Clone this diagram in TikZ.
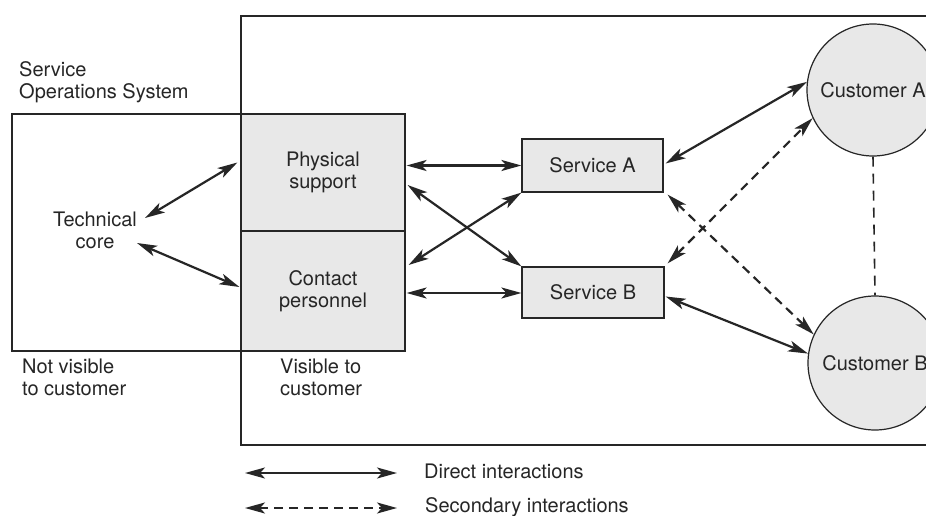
\documentclass[tikz,border=0pt]{standalone}
\usepackage{fontspec}
\setmainfont{TeX Gyre Heros}
\usetikzlibrary{arrows.meta,calc}

\definecolor{ink}{HTML}{262626}
\definecolor{shade}{HTML}{E8E8E8}

\tikzset{
  frame/.style={draw=ink, line width=1.2pt},
  boxnode/.style={frame, fill=shade, inner sep=0pt, align=center},
  custnode/.style={frame, fill=shade, circle, inner sep=0pt, align=center},
  lbl/.style={inner sep=0pt, align=left, anchor=north west},
  direct/.style={draw=ink, line width=2.2pt, {Stealth[length=20pt,width=11pt,inset=5pt]}-{Stealth[length=20pt,width=11pt,inset=5pt]}},
  secondary/.style={direct, dash pattern=on 9pt off 6pt},
}

\begin{document}
\begin{tikzpicture}[x=1pt, y=-1pt, font=\fontsize{20pt}{22pt}\selectfont, text=ink]
  \clip (0,0) rectangle (926,516);
  \fill[white] (0,0) rectangle (926,516);

  % system boundaries
  \draw[frame] (241,16) rectangle (960,445);
  \draw[frame] (12,114) rectangle (405,351);

  % visible part of the operations system
  \node[boxnode, minimum width=164pt, minimum height=117pt] (phys) at (323,172.5) {Physical\\support};
  \node[boxnode, minimum width=164pt, minimum height=120pt] (cont) at (323,291) {Contact\\personnel};

  % services
  \node[boxnode, minimum width=141pt, minimum height=53pt] (sa) at (592.5,165.5) {Service A};
  \node[boxnode, minimum width=142pt, minimum height=51pt] (sb) at (593,292.5) {Service B};

  % customers
  \node[custnode, minimum size=132pt] (ca) at (873,90) {Customer A};
  \node[custnode, minimum size=134pt] (cb) at (875,363) {Customer B};

  % technical core
  \node[align=center, inner sep=0pt] (tech) at (95,230) {Technical\\core};

  % region labels
  \node[lbl] (sos) at (19,61) {Service\\Operations System};
  \node[lbl] (nvis) at (22,359) {Not visible\\to customer};
  \node[lbl] (vis) at (280,359) {Visible to\\customer};

  % direct interactions
  \draw[direct] ($(tech.center)+(50,-12)$) -- ($(phys.west)+(-3,-10)$);
  \draw[direct] ($(tech.center)+(42,13)$) -- ($(cont.west)+(-1,-4)$);
  \draw[direct] ($(phys.east)+(1,-7)$) -- (sa.west |- {$(phys.east)+(1,-7)$});
  \draw[direct] ($(phys.east)+(2,12.5)$) -- (sb.north west);
  \draw[direct] ($(cont.east)+(3,-26)$) -- (sa.south west);
  \draw[direct] ($(cont.east)+(1,2)$) -- (sb.west |- {$(cont.east)+(1,2)$});
  \draw[direct] ($(sa.east)+(2,-2)$) -- (ca.173);
  \draw[direct] ($(sb.east)+(1,4)$) -- (cb.172);

  % secondary interactions
  \draw[secondary] ($(sa.south east)+(4,2)$) -- (cb.155);
  \draw[secondary] ($(sb.north east)+(3,-3)$) -- (ca.205);
  \draw[draw=ink, line width=1.6pt, dash pattern=on 10pt off 7pt] (ca.south) -- (cb.north);

  % legend
  \coordinate (l1a) at (245,473);
  \coordinate (l1b) at (397,473);
  \coordinate (l2a) at (245,508);
  \coordinate (l2b) at (397,508);
  \draw[direct] (l1a) -- (l1b);
  \draw[secondary] (l2a) -- (l2b);
  \node[anchor=west, inner sep=0pt] (ldir) at (424,471) {Direct interactions};
  \node[anchor=west, inner sep=0pt] (lsec) at (425,507) {Secondary interactions};
\end{tikzpicture}
\end{document}
